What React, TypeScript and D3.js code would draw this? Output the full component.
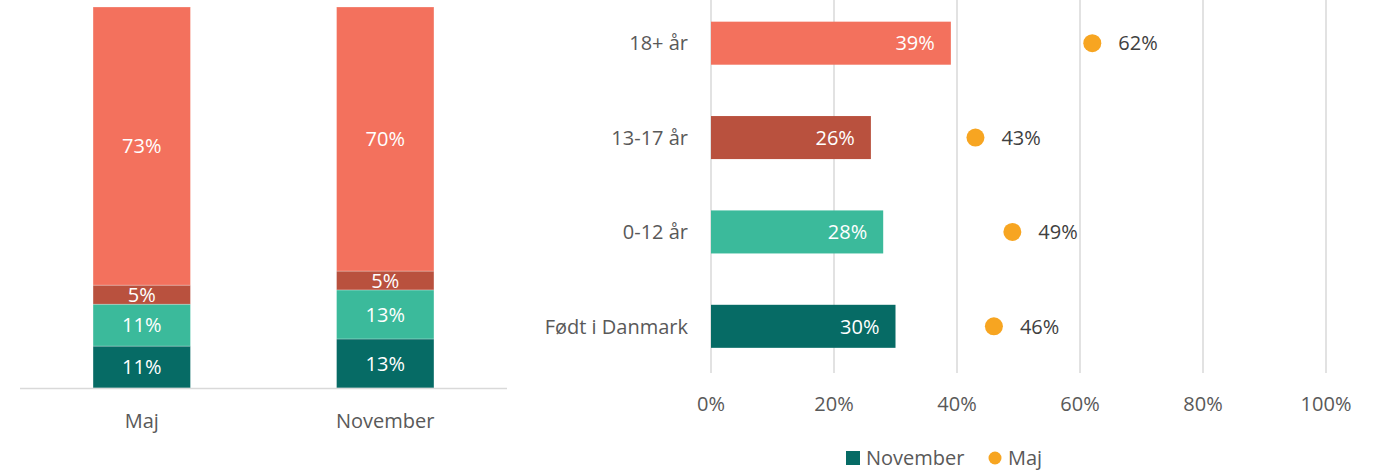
import React from "react";
import * as d3 from "d3";

// ---- Data ----
const stackCategories = ["Maj", "November"];
const stackSeries = ["Født i Danmark", "0-12 år", "13-17 år", "18+ år"]; // bottom -> top
const stackMaj = [11, 11, 5, 73];
const stackNovember = [13, 13, 5, 70];

const groups = ["18+ år", "13-17 år", "0-12 år", "Født i Danmark"];
const novemberValues = [39, 26, 28, 30];
const majValues = [62, 43, 49, 46];
const xTicks = [0, 20, 40, 60, 80, 100];

const colors: Record<string, string> = {
  "18+ år": "#F3715D",
  "13-17 år": "#B9513E",
  "0-12 år": "#3BBA9B",
  "Født i Danmark": "#066B65",
};
const dotColor = "#F7A521";
const gridColor = "#D9D9D9";
const textColor = "#595959";
const font = "'Open Sans', sans-serif";
const fs = 20;

export default function App() {
  // ---- Left: 100% stacked column ----
  const rows = stackCategories.map((c, i) => {
    const vals = i === 0 ? stackMaj : stackNovember;
    const r: any = { cat: c };
    stackSeries.forEach((s, j) => (r[s] = vals[j]));
    return r;
  });
  const stacked = d3.stack<any>().keys(stackSeries).offset(d3.stackOffsetExpand)(rows);
  const xL = d3.scaleBand().domain(stackCategories).range([20, 507]).paddingInner(0.6).paddingOuter(0.3);
  const yL = d3.scaleLinear().domain([0, 1]).range([388, 7]);

  // ---- Right: horizontal bars + dots ----
  const xR = d3.scaleLinear().domain([0, 100]).range([711, 1326]);
  const yR = d3.scaleBand().domain(groups).range([-4, 373.5]).paddingInner(0.544).paddingOuter(0.272);
  const bw = yR.bandwidth();

  return (
    <svg
      width={1373}
      height={470}
      style={{ position: "absolute", left: 0, top: 0, background: "#fff", fontFamily: font }}
    >
      {/* Left chart */}
      {stacked.map((layer) =>
        layer.map((d, i) => {
          const cat = stackCategories[i];
          const y0 = yL(d[0]);
          const y1 = yL(d[1]);
          const val = (d.data as any)[layer.key];
          return (
            <g key={layer.key + cat}>
              <rect
                x={xL(cat)!}
                y={y1}
                width={xL.bandwidth()}
                height={y0 - y1}
                fill={colors[layer.key]}
                stroke="#ffffff"
                strokeOpacity={0.35}
                strokeWidth={0.75}
              />
              <text
                x={xL(cat)! + xL.bandwidth() / 2}
                y={(y0 + y1) / 2}
                dy="0.36em"
                textAnchor="middle"
                fill="#ffffff"
                fontSize={fs}
              >
                {val}%
              </text>
            </g>
          );
        })
      )}
      <line x1={20} x2={507} y1={388.5} y2={388.5} stroke={gridColor} strokeWidth={1.5} />
      {stackCategories.map((c) => (
        <text
          key={c}
          x={xL(c)! + xL.bandwidth() / 2}
          y={421}
          dy="0.36em"
          textAnchor="middle"
          fill={textColor}
          fontSize={fs}
        >
          {c}
        </text>
      ))}

      {/* Right chart gridlines */}
      {xTicks.map((t) => (
        <g key={t}>
          <line x1={xR(t)} x2={xR(t)} y1={0} y2={373} stroke={gridColor} strokeWidth={1.5} />
          <text x={xR(t)} y={404} dy="0.36em" textAnchor="middle" fill={textColor} fontSize={fs}>
            {t}%
          </text>
        </g>
      ))}
      {groups.map((g, i) => {
        const y = yR(g)!;
        const cy = y + bw / 2;
        return (
          <g key={g}>
            <text x={688} y={cy} dy="0.36em" textAnchor="end" fill={textColor} fontSize={fs}>
              {g}
            </text>
            <rect x={xR(0)} y={y} width={xR(novemberValues[i]) - xR(0)} height={bw} fill={colors[g]} />
            <text
              x={xR(novemberValues[i]) - 16}
              y={cy}
              dy="0.36em"
              textAnchor="end"
              fill="#ffffff"
              fontSize={fs}
            >
              {novemberValues[i]}%
            </text>
            <circle cx={xR(majValues[i])} cy={cy} r={9} fill={dotColor} />
            <text x={xR(majValues[i]) + 26} y={cy} dy="0.36em" fill="#404040" fontSize={fs}>
              {majValues[i]}%
            </text>
          </g>
        );
      })}

      {/* Legend */}
      <rect x={846} y={451} width={14} height={14} fill={colors["Født i Danmark"]} />
      <text x={866} y={458} dy="0.36em" fill={textColor} fontSize={fs}>
        November
      </text>
      <circle cx={995} cy={458} r={6.5} fill={dotColor} />
      <text x={1008} y={458} dy="0.36em" fill={textColor} fontSize={fs}>
        Maj
      </text>
    </svg>
  );
}
